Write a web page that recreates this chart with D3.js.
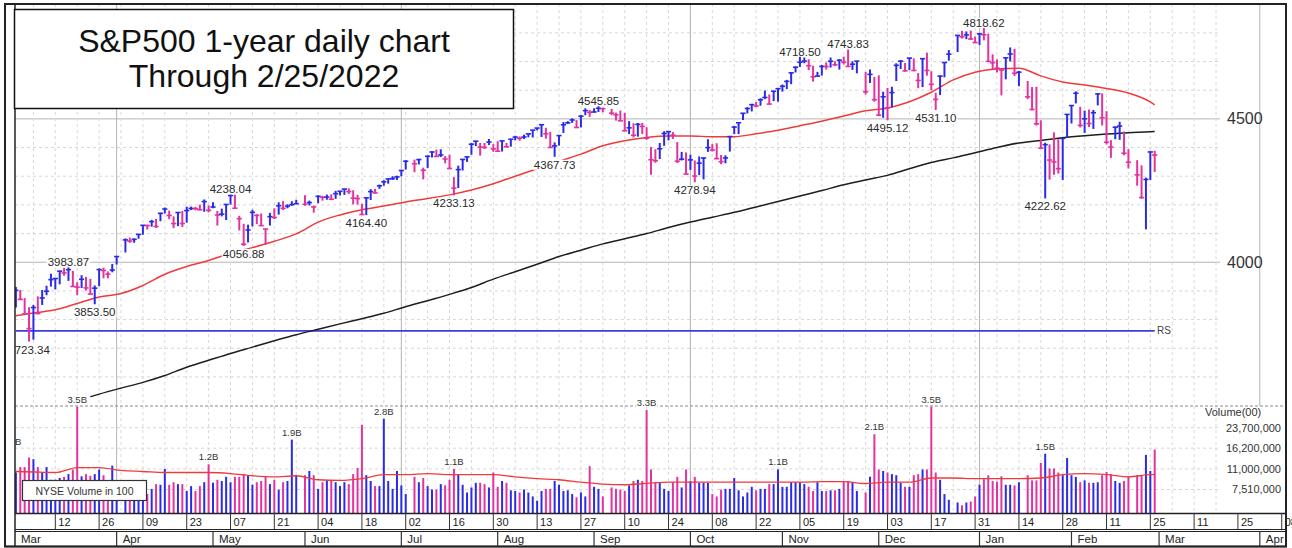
<!DOCTYPE html>
<html><head><meta charset="utf-8">
<script src="https://cdn.jsdelivr.net/npm/d3@7"></script>
<style>
html,body{margin:0;padding:0;background:#fff;}
svg{display:block;font-family:"Liberation Sans",Arial,sans-serif;}
</style></head><body>
<svg id="c" width="1292" height="548"></svg>
<script>
// ---------------- DATA ----------------
const firstDay = "2021-03-01", lastDay = "2022-02-28";
const holidays = ["2021-04-02","2021-05-31","2021-07-05","2021-09-06","2021-11-25","2021-12-24","2022-01-17","2022-02-21"];

// daily highs (trading days in order, Mar 2021 .. Feb 2022)
const highs = [
 3914,3903,3875,3843,3851,3881,3903,3918,3960,3944,3970,3981,3983.87,3970,3930,3955,3949,3942,3919,3978,3981,3968,3994,
 4020,4083,4086,4083,4098,4129,4131,4148,4151,4173,4191,4180,4160,4175,4179,4194,4194,4193,4201,4219,4198,
 4209,4179,4187,4202,4238.04,4236,4162,4134,4131,4183,4168,4170,4117,4172,4188,4209,4213,4202,4213,4218,
 4234,4215,4198,4233,4232,4236,4237,4249,4249,4255,4258,4251,4235,4204,4226,4255,4256,4271,4286,4292,4300,4302,
 4321,4356,4358,4361,4330,4372,4386,4393,4394,4370,4375,4297,4337,4359,4369,4415,4422,4416,4416,4430,4412,
 4422,4424,4416,4430,4441,4439,4445,4449,4461,4468,4480,4469,4455,4418,4444,4489,4492,4502,4496,4513,4537,4531,
 4537,4545.85,4539,4535,4522,4529,4521,4492,4485,4486,4486,4471,4402,4394,4416,4457,4457,4454,4419,4385,4383,
 4375,4355,4369,4365,4429,4412,4415,4374,4373,4439,4475,4488,4520,4541,4551,4559,4572,4599,4585,4598,4608,
 4620,4636,4663,4683,4718.5,4714,4708,4685,4664,4688,4697,4714,4701,4708,4717,4743.83,4701,4702,4664,4672,4646,
 4652,4595,4608,4612,4694,4705,4695,4713,4711,4660,4712,4731,4666,4591,4651,4697,4740,4791,4807,4805,4808,4787,
 4800,4818.62,4797,4725,4707,4673,4714,4749,4744,4667,4632,4611,4612,4495,4417,4411,4453,4429,4432,4517,
 4546,4596,4542,4529,4533,4531,4590,4589,4527,4426,4473,4490,4456,4394,4356,4338,4295,4385,4389
];
const lows = [
 3842,3868,3818,3723.34,3730,3818,3851,3885,3915,3905,3923,3953,3935,3914,3885,3910,3901,3889,3853.5,3917,3944,3944,3965,
 3992,4034,4068,4068,4082,4096,4114,4124,4120,4143,4170,4150,4119,4126,4123,4138,4182,4181,4181,4176,4174,
 4188,4128,4160,4147,4201,4188,4111,4056.88,4069,4125,4133,4127,4061,4128,4151,4166,4182,4188,4197,4203,
 4197,4198,4173,4206,4215,4218,4219,4221,4233,4235,4238,4202,4201,4165,4164.4,4217,4240,4256,4267,4274,4287,4287,
 4300,4323,4314,4341,4289,4329,4365,4368,4367,4345,4324,4233.13,4259,4320,4350,4375,4405,4372,4395,4409,4385,
 4385,4386,4400,4403,4425,4424,4430,4436,4435,4460,4437,4431,4400,4367.73,4407,4451,4482,4486,4469,4470,4513,4507,
 4522,4524,4523,4513,4494,4493,4457,4447,4435,4438,4447,4427,4305,4347,4360,4406,4425,4430,4346,4355,4307,
 4322,4278.94,4304,4289,4385,4386,4360,4342,4345,4386,4447,4447,4496,4519,4526,4541,4546,4569,4551,4562,4560,
 4595,4604,4621,4662,4681,4694,4670,4630,4648,4651,4672,4679,4684,4672,4690,4682,4671,4659,4585,4625,4560,
 4510,4504,4495.12,4540,4632,4674,4665,4670,4666,4607,4611,4651,4600,4531.1,4583,4645,4703,4733,4780,4778,4775,4765,
 4758,4774,4699,4671,4662,4582,4638,4700,4650,4614,4569,4530,4477,4395,4222.62,4288,4305,4309,4287,4435,
 4484,4554,4470,4451,4472,4465,4547,4477,4411,4364,4429,4427,4373,4327,4267,4222,4114.65,4287,4315
];
const closes = [
 3901.8,3870.3,3819.7,3768.5,3841.9,3821.4,3875.4,3898.8,3939.3,3943.3,3968.9,3962.7,3974.1,3915.5,3913.1,3940.6,3910.5,3889.1,3909.5,3974.5,3971.1,3958.6,3972.9,
 4019.9,4077.9,4073.9,4080.0,4097.2,4128.8,4128.0,4141.6,4124.7,4170.4,4185.5,4163.3,4134.9,4173.4,4135.0,4180.2,4187.6,4186.7,4183.2,4211.5,4181.2,
 4192.7,4164.7,4167.6,4201.6,4232.6,4188.4,4152.1,4063.0,4112.5,4173.9,4163.3,4127.8,4115.7,4159.1,4155.9,4197.1,4188.1,4196.0,4200.9,4204.1,
 4202.0,4208.1,4192.9,4229.9,4226.5,4227.3,4219.6,4239.2,4247.4,4255.2,4246.6,4223.7,4221.9,4166.5,4224.8,4246.4,4241.8,4266.5,4280.7,4290.6,4291.8,4297.5,
 4319.9,4352.3,4343.5,4358.1,4320.8,4369.6,4384.6,4369.2,4374.3,4360.0,4327.2,4258.5,4323.1,4358.7,4367.5,4411.8,4422.3,4401.5,4400.6,4419.2,4395.3,
 4387.2,4423.2,4402.7,4429.1,4436.5,4432.4,4436.8,4447.7,4460.8,4468.0,4479.7,4448.1,4400.3,4405.8,4441.7,4479.5,4486.2,4496.2,4470.0,4509.4,4528.8,4522.7,
 4524.1,4537.0,4535.4,4520.0,4514.1,4493.3,4458.6,4468.7,4443.1,4480.7,4473.8,4433.0,4357.7,4354.2,4395.6,4449.0,4455.5,4443.1,4352.6,4359.5,4307.5,
 4357.0,4300.5,4345.7,4363.6,4399.8,4391.3,4361.2,4350.7,4363.8,4438.3,4471.4,4486.5,4519.6,4536.2,4549.8,4544.9,4566.5,4574.8,4551.7,4596.4,4605.4,
 4613.7,4630.7,4660.6,4680.1,4697.5,4701.7,4685.3,4646.7,4649.3,4682.9,4682.8,4700.9,4688.7,4704.5,4698.0,4682.9,4690.7,4701.5,4594.6,4655.3,4567.0,
 4513.0,4577.1,4538.4,4591.7,4686.8,4701.2,4667.5,4712.0,4669.0,4634.1,4709.9,4668.7,4620.6,4568.0,4649.2,4696.6,4725.8,4791.2,4786.4,4793.1,4778.7,4766.2,
 4796.6,4793.5,4700.6,4696.1,4677.0,4670.3,4713.1,4726.4,4659.0,4662.9,4577.1,4532.8,4482.7,4397.9,4410.1,4356.5,4349.9,4326.5,4431.9,4515.6,
 4546.5,4589.4,4477.4,4500.5,4483.9,4521.5,4587.2,4504.1,4418.6,4401.7,4471.1,4475.0,4380.3,4348.9,4304.8,4225.5,4288.7,4384.7,4373.9
];
const prevClose = 3811.15; // close before the first bar
// NYSE volume in hundreds of shares, millions
const volumeMil = [
 10.3,11.4,11.4,13.6,13.2,11.4,10.4,11.4,9.0,9.0,9.3,9.5,10.0,10.9,35,9.6,10.0,9.7,10.0,10.9,9.8,8.8,11.7,
 8.5,7.8,7.6,7.6,7.4,7.2,6.9,7.6,8.3,8.2,11.0,8.2,8.6,8.3,8.3,7.3,8.0,7.3,8.0,8.6,12.0,
 8.5,9.0,8.8,9.5,8.6,9.5,9.5,10.0,9.8,8.2,8.6,8.8,9.5,8.3,9.0,7.5,8.6,8.8,19,9.8,
 9.8,10.6,9.8,7.6,8.6,8.9,8.9,8.6,8.0,8.6,8.3,10.0,11.2,25,9.8,8.8,8.0,8.0,28,8.8,7.6,10.6,
 8.1,6.9,9.5,8.6,9.3,8.0,7.5,7.5,8.3,8.1,9.0,11.0,10.0,8.2,7.1,7.8,8.5,8.5,8.3,7.8,10.3,
 7.9,8.8,8.5,7.4,7.3,7.1,7.5,7.1,6.6,6.1,7.3,7.6,7.6,8.8,8.2,7.3,7.4,6.9,6.5,7.1,6.6,11.6,
 7.9,7.6,6.6,7.8,7.6,7.5,7.3,8.1,8.8,9.0,8.8,33,10.9,8.6,8.6,7.6,7.3,8.6,9.5,7.8,10.9,
 8.8,9.5,8.5,8.5,8.5,6.9,6.6,7.5,7.6,7.6,9.3,7.4,6.6,7.1,7.9,7.4,7.6,7.6,8.3,8.3,10.9,
 7.9,7.9,8.6,8.6,8.6,8.3,7.9,7.3,8.6,7.3,7.3,7.4,7.4,7.6,8.8,8.8,8.6,7.3,7.1,9.5,21,
 10.9,10.6,10.3,10.0,9.8,8.5,7.9,7.9,9.8,10.0,10.9,10.9,35,10.3,9.0,6.9,6.2,5.9,5.6,5.9,6.0,6.6,
 8.2,9.1,9.8,8.8,8.7,9.6,8.2,8.2,8.1,8.6,9.8,8.9,8.9,12.3,14.6,11.1,11.1,10.3,9.8,13.5,
 9.8,9.5,8.6,8.9,8.5,8.5,8.6,9.8,10.4,10.0,8.8,8.5,8.8,9.6,9.8,9.8,14.3,10.6,15.8
];

// 50-day moving average (red), read at weekly points
const ma50 = [
 ["2021-03-01",3813],["2021-03-05",3823],["2021-03-12",3834],["2021-03-19",3856],["2021-03-26",3879],["2021-04-02",3891],
 ["2021-04-09",3919],["2021-04-16",3958],["2021-04-23",3985],["2021-04-30",4006],["2021-05-07",4031],["2021-05-14",4051],
 ["2021-05-21",4073],["2021-05-28",4099],["2021-06-04",4140],["2021-06-11",4165],["2021-06-18",4183],["2021-06-25",4196],
 ["2021-07-02",4210],["2021-07-09",4222],["2021-07-16",4235],["2021-07-23",4252],["2021-07-30",4274],["2021-08-06",4300],
 ["2021-08-13",4326],["2021-08-20",4352],["2021-08-27",4377],["2021-09-03",4406],["2021-09-10",4424],["2021-09-17",4435],
 ["2021-09-24",4440],["2021-10-01",4440],["2021-10-08",4438],["2021-10-15",4438],["2021-10-22",4448],["2021-10-29",4460],
 ["2021-11-05",4476],["2021-11-12",4492],["2021-11-19",4510],["2021-11-26",4528],["2021-12-03",4538],["2021-12-10",4560],
 ["2021-12-17",4593],["2021-12-24",4636],["2021-12-31",4663],["2022-01-07",4674],["2022-01-14",4677],["2022-01-21",4650],
 ["2022-01-28",4629],["2022-02-04",4618],["2022-02-11",4606],["2022-02-18",4590],["2022-02-25",4559],["2022-02-28",4549]
];
// 200-day moving average (black)
const ma200 = [
 ["2021-03-24",3531],["2021-03-26",3540],["2021-04-02",3561],["2021-04-09",3581],["2021-04-16",3605],["2021-04-23",3634],
 ["2021-04-30",3658],["2021-05-07",3682],["2021-05-14",3704],["2021-05-21",3726],["2021-05-28",3747],["2021-06-04",3766],
 ["2021-06-11",3785],["2021-06-18",3803],["2021-06-25",3822],["2021-07-02",3845],["2021-07-09",3866],["2021-07-16",3888],
 ["2021-07-23",3912],["2021-07-30",3941],["2021-08-06",3967],["2021-08-13",3993],["2021-08-20",4020],["2021-08-27",4042],
 ["2021-09-03",4064],["2021-09-10",4082],["2021-09-17",4100],["2021-09-24",4121],["2021-10-01",4140],["2021-10-08",4157],
 ["2021-10-15",4174],["2021-10-22",4193],["2021-10-29",4212],["2021-11-05",4231],["2021-11-12",4250],["2021-11-19",4270],
 ["2021-11-26",4287],["2021-12-03",4303],["2021-12-10",4326],["2021-12-17",4348],["2021-12-24",4364],["2021-12-31",4382],
 ["2022-01-07",4400],["2022-01-14",4416],["2022-01-21",4425],["2022-01-28",4434],["2022-02-04",4441],["2022-02-11",4447],
 ["2022-02-18",4452],["2022-02-25",4455],["2022-02-28",4456]
];
// 50-day average volume (red line in volume panel), millions of hundreds
const volMA = [
 ["2021-03-01",10.5],["2021-03-05",10.4],["2021-03-12",10.3],["2021-03-19",11.3],["2021-03-26",11.3],["2021-04-02",10.7],
 ["2021-04-09",10.5],["2021-04-16",10.3],["2021-04-23",10.3],["2021-04-30",10.3],["2021-05-07",10.1],["2021-05-14",9.7],
 ["2021-05-21",9.5],["2021-05-28",9.7],["2021-06-04",9.0],["2021-06-11",8.9],["2021-06-18",9.2],["2021-06-25",9.9],
 ["2021-07-02",9.9],["2021-07-09",10.1],["2021-07-16",9.9],["2021-07-23",9.9],["2021-07-30",9.9],["2021-08-06",9.5],
 ["2021-08-13",9.2],["2021-08-20",9.0],["2021-08-27",8.6],["2021-09-03",8.3],["2021-09-10",8.2],["2021-09-17",8.4],
 ["2021-09-24",8.6],["2021-10-01",8.6],["2021-10-08",8.6],["2021-10-15",8.6],["2021-10-22",8.6],["2021-10-29",8.6],
 ["2021-11-05",8.6],["2021-11-12",8.7],["2021-11-19",8.7],["2021-11-26",8.4],["2021-12-03",8.6],["2021-12-10",8.6],
 ["2021-12-17",9.3],["2021-12-24",9.3],["2021-12-31",9.2],["2022-01-07",9.2],["2022-01-14",9.2],["2022-01-21",9.3],
 ["2022-01-28",9.9],["2022-02-04",10.1],["2022-02-11",9.9],["2022-02-18",9.5],["2022-02-25",9.9],["2022-02-28",9.9]
];
const rsLevel = 3760.5;

const priceLabels = [
 ["2021-03-04","low"],["2021-03-17","high"],["2021-03-25","low"],["2021-05-07","high"],["2021-05-12","low"],
 ["2021-06-21","low"],["2021-07-19","low"],["2021-08-19","low"],["2021-09-02","high"],["2021-10-04","low"],
 ["2021-11-05","high"],["2021-11-22","high"],["2021-12-03","low"],["2021-12-20","low"],["2022-01-04","high"],["2022-01-24","low"]
];
const volumeLabelDates = ["2021-03-19","2021-04-30","2021-05-27","2021-06-25","2021-07-19","2021-09-17",
 "2021-10-29","2021-11-30","2021-12-17","2022-01-24"];
const offChartVolLabel = {w:-1, text:"1.6B", vol:16.0};

const priceTicks = [4000, 4500];
const volumeTicks = [23700000, 16200000, 11000000, 7510000];
const title = ["S&P500 1-year daily chart", "Through 2/25/2022"];

// ---------------- SETUP ----------------
const parse = d3.timeParse("%Y-%m-%d"), fmt = d3.timeFormat("%Y-%m-%d");
const start = parse(firstDay), end = parse(lastDay);
const hol = new Set(holidays);
const dates = d3.timeDay.range(start, d3.timeDay.offset(end,1))
  .filter(d => d.getDay()>0 && d.getDay()<6 && !hol.has(fmt(d)));
function wIdx(d){ const n = d3.timeDay.count(start, d); return Math.floor(n/7)*5 + Math.min(n%7,4); }
const bars = dates.map((d,i)=>({d, w:wIdx(d), h:highs[i], l:lows[i], c:closes[i], v:volumeMil[i]*1e6,
  up: closes[i] > (i? closes[i-1] : prevClose)}));
const byDate = new Map(bars.map(b=>[fmt(b.d), b]));

const BLUE = "#2b2be6", PINK = "#e2339f", RED = "#f03a3a";
const x = d3.scaleLinear().domain([0,260]).range([15.9, 1154.7]);
const y = d3.scaleLinear().domain([3500,4900]).range([405.6, 4.2]);
const yv = d3.scaleLog().domain([4.85e6, 35.5e6]).range([513, 406]).clamp(true);

const svg = d3.select("#c");
const defs = svg.append("defs");
defs.append("clipPath").attr("id","pc").append("rect").attr("x",15).attr("y",4).attr("width",1271).attr("height",402);
defs.append("clipPath").attr("id","vc").append("rect").attr("x",15).attr("y",395).attr("width",1271).attr("height",118);

const grid = svg.append("g");
// horizontal price grid
d3.range(3600, 4900, 100).forEach(v=>{
  const solid = priceTicks.includes(v);
  grid.append("line").attr("x1",15).attr("x2",1220).attr("y1",y(v)).attr("y2",y(v))
    .attr("stroke", solid?"#b4b4b4":"#d6d6d6").attr("stroke-width",1)
    .attr("stroke-dasharray", solid?null:"3,3");
});
// weekly vertical grid
const fridays = d3.timeFriday.range(parse("2021-03-05"), parse("2022-03-19"));
fridays.forEach(d=>{
  grid.append("line").attr("x1",x(wIdx(d))).attr("x2",x(wIdx(d))).attr("y1",4).attr("y2",513)
    .attr("stroke","#d8d8d8").attr("stroke-dasharray","3,3");
});
// volume grid
volumeTicks.forEach(v=>{
  grid.append("line").attr("x1",15).attr("x2",1220).attr("y1",yv(v)).attr("y2",yv(v))
    .attr("stroke","#d6d6d6").attr("stroke-dasharray","3,3");
});
function firstWeekday(yr, m){ let d = new Date(yr,m,1); while(d.getDay()===0||d.getDay()===6) d = d3.timeDay.offset(d,1); return d; }
// quarter lines
[[2021,3],[2021,6],[2021,9],[2022,0],[2022,3]].forEach(([yr,m])=>{
  const xx = x(wIdx(firstWeekday(yr,m)));
  grid.append("line").attr("x1",xx).attr("x2",xx).attr("y1",4).attr("y2", xx>1220?406:513)
    .attr("stroke","#b4b4b4");
});

// panel separator (dashed)
svg.append("line").attr("x1",15).attr("x2",1286).attr("y1",406).attr("y2",406)
  .attr("stroke","#8a8a8a").attr("stroke-dasharray","3,2");

// ---- price panel ----
const pg = svg.append("g").attr("clip-path","url(#pc)");
pg.append("line").attr("x1",x(0)).attr("x2",x(260)).attr("y1",y(rsLevel)).attr("y2",y(rsLevel))
  .attr("stroke","#3c3ce0").attr("stroke-width",1.6);
const mline = d3.line().x(p=>x(wIdx(parse(p[0])))).y(p=>y(p[1])).curve(d3.curveMonotoneX);
pg.append("path").attr("d", mline(ma200)).attr("fill","none").attr("stroke","#1e1e1e").attr("stroke-width",1.5);
pg.append("path").attr("d", mline(ma50)).attr("fill","none").attr("stroke",RED).attr("stroke-width",1.5);

// price label backgrounds & text
const lblG = pg.append("g");
function addLabel(g, cx, baseline, text, size, fill){
  const t = g.append("text").attr("x",cx).attr("y",baseline).attr("text-anchor","middle")
    .attr("font-size",size).attr("fill",fill).text(text);
  const bb = t.node().getBBox();
  g.insert("rect", function(){return t.node();}).attr("x",bb.x-1).attr("y",bb.y+1).attr("width",bb.width+2).attr("height",bb.height-2).attr("fill","#fff");
  return t;
}

const barG = pg.append("g");
bars.forEach(b=>{
  const col = b.up?BLUE:PINK, xx = x(b.w);
  barG.append("line").attr("x1",xx).attr("x2",xx).attr("y1",y(b.h)).attr("y2",y(b.l))
    .attr("stroke",col).attr("stroke-width",2);
  barG.append("line").attr("x1",xx-2.6).attr("x2",xx+2.6).attr("y1",y(b.c)).attr("y2",y(b.c))
    .attr("stroke",col).attr("stroke-width",1.6);
});
priceLabels.forEach(([ds,pos])=>{
  const b = byDate.get(ds); const val = pos==="high"?b.h:b.l;
  const base = pos==="high"? y(val)-0.5 : y(val)+12;
  addLabel(lblG, x(b.w), base, val.toFixed(2), "11.5px", "#2a2a2a");
});
lblG.raise();
svg.append("text").attr("x",1157).attr("y",334).attr("font-size","10px").attr("fill","#444").text("RS");

// ---- volume panel ----
const vg = svg.append("g").attr("clip-path","url(#vc)");
bars.forEach(b=>{
  vg.append("line").attr("x1",x(b.w)).attr("x2",x(b.w)).attr("y1",513).attr("y2",yv(b.v))
    .attr("stroke", b.up?BLUE:PINK).attr("stroke-width",2);
});
const vline = d3.line().x(p=>x(wIdx(parse(p[0])))).y(p=>yv(p[1]*1e6)).curve(d3.curveMonotoneX);
vg.append("path").attr("d", vline(volMA)).attr("fill","none").attr("stroke",RED).attr("stroke-width",1.3);
const vlG = vg.append("g");
volumeLabelDates.forEach(ds=>{
  const b = byDate.get(ds);
  addLabel(vlG, x(b.w), yv(b.v)-4, (b.v/1e7).toFixed(1)+"B", "9.5px", "#333");
});
addLabel(vlG, x(offChartVolLabel.w), yv(offChartVolLabel.vol*1e6)-4, offChartVolLabel.text, "9.5px", "#333");

// NYSE box
svg.append("rect").attr("x",22.5).attr("y",480.5).attr("width",124).attr("height",20)
  .attr("fill","#fff").attr("stroke","#333").attr("stroke-width",1.2);
svg.append("text").attr("x",84.5).attr("y",494.5).attr("text-anchor","middle").attr("font-size","10.5px")
  .attr("fill","#333").text("NYSE Volume in 100");

// right axes
priceTicks.forEach(v=>{
  svg.append("text").attr("x",1227).attr("y",y(v)+5.6).attr("font-size","16px").attr("fill","#333").text(v);
});
svg.append("text").attr("x",1205).attr("y",416).attr("font-size","11px").attr("fill","#333").text("Volume(00)");
volumeTicks.forEach(v=>{
  svg.append("text").attr("x",1281).attr("y",yv(v)+4).attr("text-anchor","end").attr("font-size","11px")
    .attr("fill","#333").text(d3.format(",")(v));
});

// ---- date axis ----
const ax = svg.append("g");
ax.append("line").attr("x1",15).attr("x2",1286).attr("y1",513.5).attr("y2",513.5).attr("stroke","#222").attr("stroke-width",1.5);
ax.append("line").attr("x1",15).attr("x2",1286).attr("y1",529.5).attr("y2",529.5).attr("stroke","#222").attr("stroke-width",1.2);
ax.append("line").attr("x1",15).attr("x2",1286).attr("y1",531.5).attr("y2",531.5).attr("stroke","#222").attr("stroke-width",1.2);
ax.append("line").attr("x1",5).attr("x2",1286).attr("y1",546.5).attr("y2",546.5).attr("stroke","#222").attr("stroke-width",1.5);
const dayTicks = d3.timeFriday.range(parse("2021-03-12"), parse("2022-04-10")).filter((d,i)=>i%2===0);
const dayFmt = d3.timeFormat("%d");
dayTicks.forEach(d=>{
  const xx = x(wIdx(d));
  ax.append("line").attr("x1",xx).attr("x2",xx).attr("y1",513).attr("y2",529.5).attr("stroke","#333").attr("stroke-width",1);
  ax.append("text").attr("x",xx+3).attr("y",525.5).attr("font-size","11px").attr("fill","#222").text(dayFmt(d));
});
const monFmt = d3.timeFormat("%b");
ax.append("text").attr("x",21).attr("y",542.5).attr("font-size","11.5px").attr("fill","#222").text(monFmt(start));
d3.range(1,14).forEach(k=>{
  const yr = 2021 + Math.floor((2+k)/12), m = (2+k)%12;
  const d = firstWeekday(yr,m), xx = x(wIdx(d));
  ax.append("line").attr("x1",xx).attr("x2",xx).attr("y1",531).attr("y2",546.5).attr("stroke","#333").attr("stroke-width",1.2);
  ax.append("text").attr("x",xx+6).attr("y",542.5).attr("font-size","11.5px").attr("fill","#222").text(monFmt(d));
});

// ---- frame ----
svg.append("rect").attr("x",5).attr("y",4).attr("width",1281).attr("height",542.5)
  .attr("fill","none").attr("stroke","#222").attr("stroke-width",2);
svg.append("line").attr("x1",15).attr("x2",15).attr("y1",4).attr("y2",546.5).attr("stroke","#222").attr("stroke-width",1.5);

// ---- title box ----
svg.append("rect").attr("x",14.5).attr("y",9.5).attr("width",499).attr("height",99)
  .attr("fill","#fff").attr("stroke","#111").attr("stroke-width",1.5);
svg.append("text").attr("x",264).attr("y",52).attr("text-anchor","middle").attr("font-size","32px").attr("fill","#111").text(title[0]);
svg.append("text").attr("x",264).attr("y",87).attr("text-anchor","middle").attr("font-size","32px").attr("fill","#111").text(title[1]);

console.log("bars", dates.length, highs.length, lows.length, closes.length, volumeMil.length);
</script>
</body></html>
